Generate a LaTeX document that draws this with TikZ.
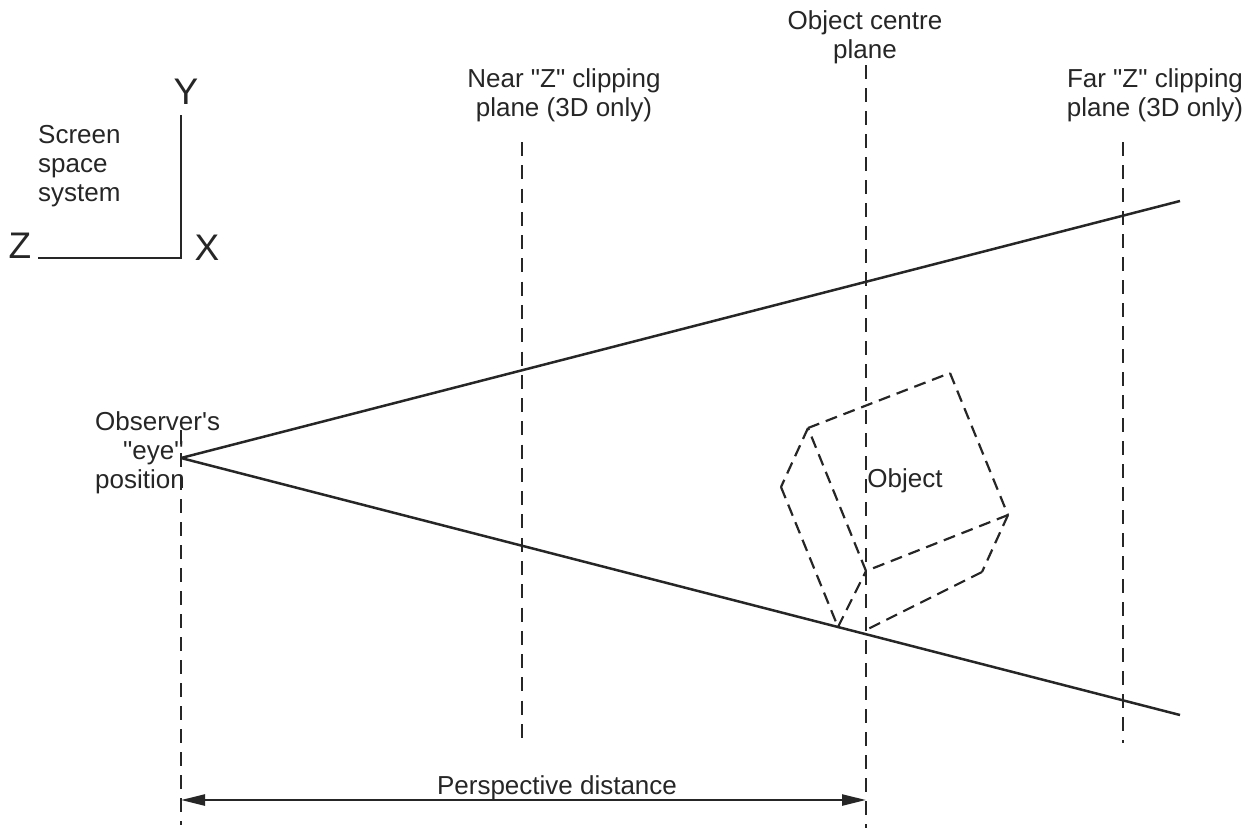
\documentclass[tikz,border=0pt]{standalone}
\usepackage{fontspec}
\setmainfont{Liberation Sans}
\usetikzlibrary{arrows.meta}
\newcommand{\qq}{\XeTeXglyph\XeTeXcharglyph"22 }
\newcommand{\ap}{\XeTeXglyph\XeTeXcharglyph"27 }
\tikzset{
  solidline/.style={draw=black!85,line width=2.5pt},
  planeline/.style={draw=black!85,line width=2pt,dash pattern=on 14pt off 9pt},
  objline/.style={draw=black!85,line width=2.2pt,dash pattern=on 12pt off 7pt},
  lbl/.style={inner sep=0pt,align=center,font=\fontsize{26pt}{29pt}\selectfont,text=black!85},
  lbll/.style={lbl,align=left},
  axis/.style={inner sep=0pt,font=\fontsize{37pt}{37pt}\selectfont,text=black!85},
  dim/.style={solidline,{Triangle[length=24pt,width=11pt]}-{Triangle[length=24pt,width=11pt]}}
}
\begin{document}
\begin{tikzpicture}[x=1pt,y=-1pt]
\useasboundingbox (0,0) rectangle (1253,828);
\coordinate (eye) at (181,458);
\coordinate (topend) at (1180,201);
\coordinate (botend) at (1180,715);
\coordinate (ytop) at (181,115);
\coordinate (origin) at (181,258);
\coordinate (zend) at (38,258);
\coordinate (eyeA) at (181,430);
\coordinate (eyeB) at (181,825);
\coordinate (nearA) at (522,142);
\coordinate (nearB) at (522,738);
\coordinate (cenA) at (866,65);
\coordinate (cenB) at (866,828);
\coordinate (farA) at (1123,142);
\coordinate (farB) at (1123,743);
\coordinate (dimL) at (181,800);
\coordinate (dimR) at (866,800);
\coordinate (tr) at (950,373);
\coordinate (tl) at (808,428);
\coordinate (lf) at (781,487);
\coordinate (bt) at (838,627);
\coordinate (in) at (866,571);
\coordinate (rt) at (1008,515);
\coordinate (lr) at (982,572);
\coordinate (bm) at (866,630);
\draw[solidline] (eye) -- (topend);
\draw[solidline] (eye) -- (botend);
\draw[solidline] (ytop) -- (origin) -- (zend);
\draw[planeline] (eyeA) -- (eyeB);
\draw[planeline,dash pattern=on 14pt off 9.28pt] (nearA) -- (nearB);
\draw[planeline] (cenA) -- (cenB);
\draw[planeline] (farA) -- (farB);
\draw[dim] (dimL) -- (dimR);
\draw[objline] (tl) -- (tr);
\draw[objline] (tr) -- (rt);
\draw[objline] (rt) -- (in);
\draw[objline] (in) -- (tl);
\draw[objline] (tl) -- (lf);
\draw[objline] (lf) -- (bt);
\draw[objline] (bt) -- (in);
\draw[objline] (rt) -- (lr);
\draw[objline] (lr) -- (bm);
\node[axis] (Y) at (186,92) {Y};
\node[axis] (X) at (207,248) {X};
\node[axis] (Z) at (20,246) {Z};
\node[lbll,anchor=west] (screen) at (38,166) {Screen\\space\\system};
\node[lbl] (near) at (564,95) {Near \qq Z\qq\ clipping\\plane (3D only)};
\node[lbl] (centre) at (865,37.5) {Object centre\\plane};
\node[lbl] (far) at (1155,95) {Far \qq Z\qq\ clipping\\plane (3D only)};
\node[lbll,anchor=west] (observer) at (95,452.5) {Observer\ap s\\\hspace*{28pt}\qq eye\qq\\position};
\node[lbl] (object) at (905,481) {Object};
\node[lbl] (persp) at (557,788) {Perspective distance};
\end{tikzpicture}
\end{document}
